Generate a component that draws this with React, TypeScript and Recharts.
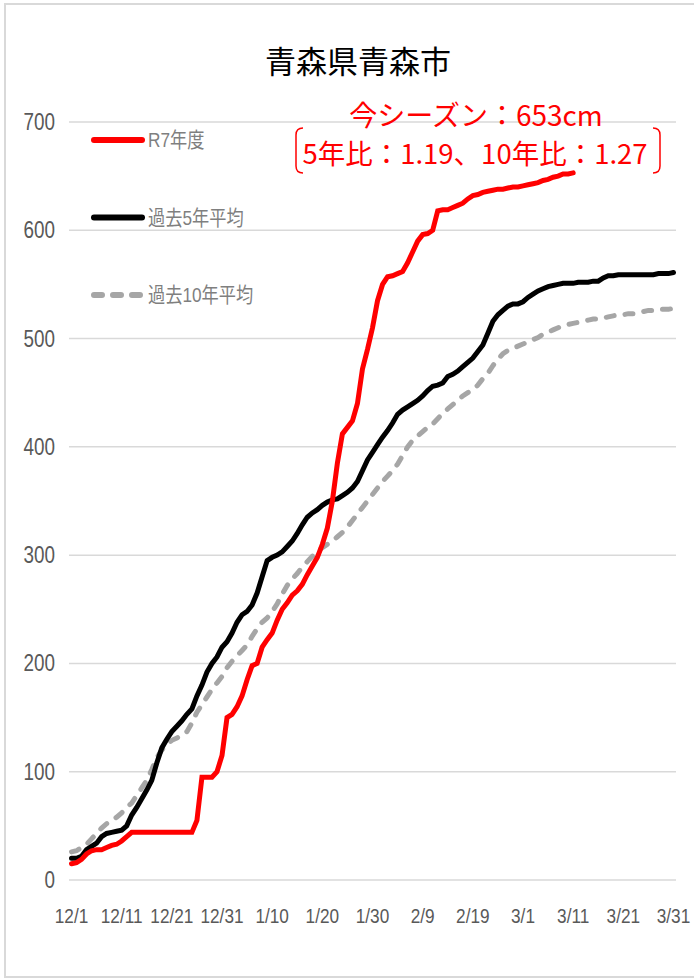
import React from 'react';
import { LineChart, Line, XAxis, YAxis, CartesianGrid } from 'recharts';

// 日付ラベル(12/1 から 10日ごと)
const tickDays = [0, 10, 20, 30, 40, 50, 60, 70, 80, 90, 100, 110, 120];
const tickLabels = ['12/1', '12/11', '12/21', '12/31', '1/10', '1/20', '1/30', '2/9', '2/19', '3/1', '3/11', '3/21', '3/31'];
const yTicks = [0, 100, 200, 300, 400, 500, 600, 700];

// 累積降雪量 (cm) 12/1 = 0 日目
const r7Values = [
  15, 16, 19, 24, 27, 28, 28, 30, 32, 33, 36, 40, 44, 44, 44, 44, 44, 44, 44, 44,
  44, 44, 44, 44, 44, 55, 95, 95, 95, 100, 115, 150, 153, 160, 170, 185, 198, 200, 215, 222,
  228, 240, 250, 256, 263, 267, 273, 282, 290, 298, 310, 325, 350, 385, 412, 418, 424, 440, 472, 490,
  510, 535, 550, 557, 558, 560, 562, 570, 580, 590, 596, 597, 600, 618, 619, 619, 621, 623, 625, 629,
  632, 633, 635, 636, 637, 638, 638, 639, 640, 640, 641, 642, 643, 644, 646, 647, 649, 650, 652, 652,
  653,
];

const avg5Values = [
  20, 20, 22, 28, 31, 34, 40, 43, 44, 45, 46, 50, 60, 67, 75, 83, 92, 108, 122, 130,
  137, 142, 147, 153, 158, 170, 180, 192, 200, 206, 215, 220, 228, 238, 245, 248, 254, 265, 280, 295,
  298, 300, 303, 308, 313, 320, 328, 335, 339, 342, 346, 349, 351, 352, 355, 358, 362, 368, 378, 388,
  395, 402, 409, 415, 422, 430, 434, 437, 440, 443, 447, 452, 456, 457, 459, 465, 467, 470, 474, 478,
  482, 488, 494, 505, 516, 522, 526, 530, 532, 532, 534, 538, 541, 544, 546, 548, 549, 550, 551, 551,
  551, 552, 552, 552, 553, 553, 556, 558, 558, 559, 559, 559, 559, 559, 559, 559, 559, 560, 560, 560,
  561,
];

const avg10Values = [
  26, 27, 30, 33, 38, 43, 48, 52, 55, 58, 62, 67, 71, 78, 85, 92, 102, 113, 120, 125,
  129, 131, 134, 137, 145, 155, 162, 169, 176, 182, 188, 196, 202, 207, 212, 217, 225, 232, 238, 242,
  248, 255, 264, 272, 278, 283, 289, 294, 299, 303, 307, 310, 313, 317, 321, 326, 332, 338, 344, 350,
  356, 362, 368, 373, 378, 384, 392, 400, 406, 410, 414, 418, 421, 426, 431, 435, 439, 443, 447, 450,
  453, 457, 463, 468, 475, 481, 486, 489, 491, 493, 495, 497, 499, 501, 504, 506, 508, 510, 512, 513,
  514, 515, 516, 517, 518, 518, 519, 520, 521, 522, 522, 523, 523, 524, 525, 526, 526, 527, 527, 527,
  528,
];

const toPoints = (values: number[]) => values.map((v, i) => ({ day: i, value: v }));

const r7Data = toPoints(r7Values);
const avg5Data = toPoints(avg5Values);
const avg10Data = toPoints(avg10Values);

// Arial Narrow 風に横を詰める
const SANS = '"Liberation Sans", Arial, "Noto Sans CJK JP", sans-serif';
const JP = '"Noto Sans CJK JP", "Noto Sans", sans-serif';
const SQUEEZE = 0.82;

interface LegendItem {
  label: string;
  color: string;
  dash?: string;
}

const legendItems: LegendItem[] = [
  { label: 'R7年度', color: '#ff0000' },
  { label: '過去5年平均', color: '#000000' },
  { label: '過去10年平均', color: '#a6a6a6', dash: '8 11' },
];

const XTick = (props: any) => {
  const { x, y, payload } = props;
  return (
    <text
      transform={`translate(${x},${y}) scale(${SQUEEZE},1)`}
      textAnchor="middle"
      dy="0.71em"
      fill="#595959"
      fontSize={21}
      fontFamily={SANS}
    >
      {tickLabels[tickDays.indexOf(payload.value)] ?? ''}
    </text>
  );
};

const YTick = (props: any) => {
  const { x, y, payload } = props;
  return (
    <text
      transform={`translate(${x},${y}) scale(${SQUEEZE},1)`}
      textAnchor="end"
      dy="0.35em"
      fill="#595959"
      fontSize={23}
      fontFamily={SANS}
    >
      {payload.value}
    </text>
  );
};

const App: React.FC = () => {
  return (
    <div style={{ position: 'absolute', left: 0, top: 0, width: 694, height: 979, background: '#fff', overflow: 'hidden' }}>
      <LineChart width={694} height={979} margin={{ top: 122, right: 18, bottom: 0, left: 0 }}>
        <CartesianGrid vertical={false} stroke="#d9d9d9" strokeWidth={1.5} />
        <XAxis
          type="number"
          dataKey="day"
          domain={[-0.5, 120.5]}
          ticks={tickDays}
          axisLine={false}
          tickLine={false}
          tickSize={0}
          tickMargin={28}
          height={99}
          interval={0}
          tick={<XTick />}
        />
        <YAxis
          type="number"
          domain={[0, 700]}
          ticks={yTicks}
          axisLine={false}
          tickLine={false}
          tickSize={0}
          tickMargin={14}
          width={69}
          tick={<YTick />}
        />
        <Line
          data={avg10Data}
          dataKey="value"
          name="過去10年平均"
          stroke="#a6a6a6"
          strokeWidth={5}
          strokeDasharray="8 11"
          strokeLinecap="round"
          dot={false}
          isAnimationActive={false}
        />
        <Line
          data={avg5Data}
          dataKey="value"
          name="過去5年平均"
          stroke="#000000"
          strokeWidth={5}
          strokeLinecap="round"
          dot={false}
          isAnimationActive={false}
        />
        <Line
          data={r7Data}
          dataKey="value"
          name="R7年度"
          stroke="#ff0000"
          strokeWidth={5}
          strokeLinecap="round"
          dot={false}
          isAnimationActive={false}
        />
      </LineChart>

      {/* タイトル・凡例・注記・枠 */}
      <svg width={694} height={979} style={{ position: 'absolute', left: 0, top: 0, pointerEvents: 'none' }}>
        <rect x={5} y={4} width={720} height={973} fill="none" stroke="#d9d9d9" strokeWidth={2} />
        <text x={358} y={73} textAnchor="middle" fontFamily={JP} fontSize={31} fill="#000">
          青森県青森市
        </text>

        {legendItems.map((item, i) => {
          const y = 140 + i * 77.5;
          return (
            <g key={item.label}>
              <line
                x1={94}
                y1={y}
                x2={142}
                y2={y}
                stroke={item.color}
                strokeWidth={6}
                strokeLinecap="round"
                strokeDasharray={item.dash}
              />
              <text
                transform={`translate(148,${y}) scale(${SQUEEZE},1)`}
                dy="0.35em"
                fontFamily={SANS}
                fontSize={21}
                fill="#7f7f7f"
              >
                {item.label}
              </text>
            </g>
          );
        })}

        <text x={476} y={126} textAnchor="middle" fontFamily={JP} fontSize={28} fill="#ff0000">
          今シーズン：653cm
        </text>
        <text x={475} y={164} textAnchor="middle" fontFamily={JP} fontSize={27.5} fill="#ff0000">
          5年比：1.19、10年比：1.27
        </text>
        <path d="M303,128 Q296,128 296,135 L296,166 Q296,173 303,173" fill="none" stroke="#ff0000" strokeWidth={1.5} />
        <path d="M653,128 Q660,128 660,135 L660,166 Q660,173 653,173" fill="none" stroke="#ff0000" strokeWidth={1.5} />
      </svg>
    </div>
  );
};

export default App;
